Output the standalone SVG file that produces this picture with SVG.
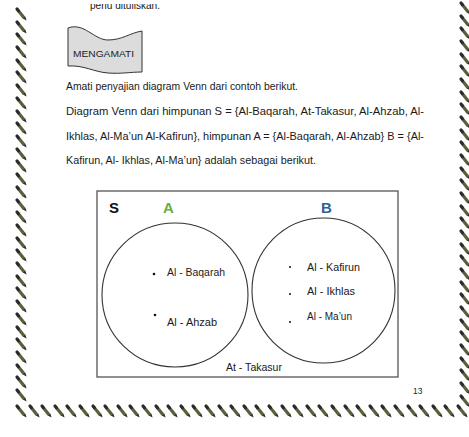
<svg xmlns="http://www.w3.org/2000/svg" xmlns:xlink="http://www.w3.org/1999/xlink" width="469" height="437" viewBox="0 0 469 437">
<style>
.t{font-family:"Liberation Sans","DejaVu Sans",sans-serif;font-size:11px;fill:#1a1a1a}
.v{font-family:"Liberation Sans","DejaVu Sans",sans-serif;font-size:11px;fill:#1a1a1a}
.set{fill:none;stroke:#333;stroke-width:1.1}
.dot{fill:#111}
.lab{font-family:"Liberation Sans","DejaVu Sans",sans-serif;font-size:15px;font-weight:bold}
</style>
<defs>
<g id="pencil">
<line x1="1.2" y1="1.5" x2="7" y2="8.8" stroke="#5e5e3c" stroke-width="3.2"/>
<line x1="0" y1="0" x2="1.4" y2="1.8" stroke="#2b2b2b" stroke-width="3.2" stroke-linecap="round"/>
<path d="M5.8,9.6 L8.3,7.6 L9.6,11.4 Z" fill="#2b2b22"/>
</g>
</defs>
<rect width="469" height="437" fill="#fff"/>
<g id="border">
<use xlink:href="#pencil" x="17" y="9"/><use xlink:href="#pencil" x="17" y="22"/><use xlink:href="#pencil" x="17" y="34"/><use xlink:href="#pencil" x="17" y="47"/><use xlink:href="#pencil" x="17" y="60"/><use xlink:href="#pencil" x="17" y="72"/><use xlink:href="#pencil" x="17" y="85"/><use xlink:href="#pencil" x="17" y="98"/><use xlink:href="#pencil" x="17" y="111"/><use xlink:href="#pencil" x="17" y="123"/><use xlink:href="#pencil" x="17" y="136"/><use xlink:href="#pencil" x="17" y="149"/><use xlink:href="#pencil" x="17" y="161"/><use xlink:href="#pencil" x="17" y="174"/><use xlink:href="#pencil" x="17" y="187"/><use xlink:href="#pencil" x="17" y="200"/><use xlink:href="#pencil" x="17" y="212"/><use xlink:href="#pencil" x="17" y="225"/><use xlink:href="#pencil" x="17" y="238"/><use xlink:href="#pencil" x="17" y="250"/><use xlink:href="#pencil" x="17" y="263"/><use xlink:href="#pencil" x="17" y="276"/><use xlink:href="#pencil" x="17" y="288"/><use xlink:href="#pencil" x="17" y="301"/><use xlink:href="#pencil" x="17" y="314"/><use xlink:href="#pencil" x="17" y="327"/><use xlink:href="#pencil" x="17" y="339"/><use xlink:href="#pencil" x="17" y="352"/><use xlink:href="#pencil" x="17" y="365"/><use xlink:href="#pencil" x="17" y="377"/><use xlink:href="#pencil" x="17" y="390"/>
<use xlink:href="#pencil" x="17" y="406"/><use xlink:href="#pencil" x="30" y="406"/><use xlink:href="#pencil" x="42" y="406"/><use xlink:href="#pencil" x="55" y="406"/><use xlink:href="#pencil" x="67" y="406"/><use xlink:href="#pencil" x="80" y="406"/><use xlink:href="#pencil" x="93" y="406"/><use xlink:href="#pencil" x="105" y="406"/><use xlink:href="#pencil" x="118" y="406"/><use xlink:href="#pencil" x="130" y="406"/><use xlink:href="#pencil" x="143" y="406"/><use xlink:href="#pencil" x="156" y="406"/><use xlink:href="#pencil" x="168" y="406"/><use xlink:href="#pencil" x="181" y="406"/><use xlink:href="#pencil" x="193" y="406"/><use xlink:href="#pencil" x="206" y="406"/><use xlink:href="#pencil" x="219" y="406"/><use xlink:href="#pencil" x="231" y="406"/><use xlink:href="#pencil" x="244" y="406"/><use xlink:href="#pencil" x="256" y="406"/><use xlink:href="#pencil" x="269" y="406"/><use xlink:href="#pencil" x="282" y="406"/><use xlink:href="#pencil" x="294" y="406"/><use xlink:href="#pencil" x="307" y="406"/><use xlink:href="#pencil" x="319" y="406"/><use xlink:href="#pencil" x="332" y="406"/><use xlink:href="#pencil" x="345" y="406"/><use xlink:href="#pencil" x="357" y="406"/><use xlink:href="#pencil" x="370" y="406"/><use xlink:href="#pencil" x="382" y="406"/><use xlink:href="#pencil" x="395" y="406"/><use xlink:href="#pencil" x="408" y="406"/><use xlink:href="#pencil" x="420" y="406"/><use xlink:href="#pencil" x="433" y="406"/><use xlink:href="#pencil" x="445" y="406"/><use xlink:href="#pencil" x="458" y="406"/>
<use xlink:href="#pencil" x="461" y="3"/><use xlink:href="#pencil" x="461" y="16"/><use xlink:href="#pencil" x="461" y="28"/><use xlink:href="#pencil" x="461" y="41"/><use xlink:href="#pencil" x="461" y="54"/><use xlink:href="#pencil" x="461" y="66"/><use xlink:href="#pencil" x="461" y="79"/><use xlink:href="#pencil" x="461" y="92"/><use xlink:href="#pencil" x="461" y="104"/><use xlink:href="#pencil" x="461" y="117"/><use xlink:href="#pencil" x="461" y="130"/><use xlink:href="#pencil" x="461" y="142"/><use xlink:href="#pencil" x="461" y="155"/><use xlink:href="#pencil" x="461" y="168"/><use xlink:href="#pencil" x="461" y="180"/><use xlink:href="#pencil" x="461" y="193"/><use xlink:href="#pencil" x="461" y="206"/><use xlink:href="#pencil" x="461" y="218"/><use xlink:href="#pencil" x="461" y="231"/><use xlink:href="#pencil" x="461" y="244"/><use xlink:href="#pencil" x="461" y="256"/><use xlink:href="#pencil" x="461" y="269"/><use xlink:href="#pencil" x="461" y="282"/><use xlink:href="#pencil" x="461" y="294"/><use xlink:href="#pencil" x="461" y="307"/><use xlink:href="#pencil" x="461" y="320"/><use xlink:href="#pencil" x="461" y="332"/><use xlink:href="#pencil" x="461" y="345"/><use xlink:href="#pencil" x="461" y="358"/><use xlink:href="#pencil" x="461" y="370"/><use xlink:href="#pencil" x="461" y="383"/><use xlink:href="#pencil" x="461" y="396"/>
</g>
<g id="page-text">
<text class="t" x="90" y="9" textLength="70" lengthAdjust="spacingAndGlyphs">perlu dituliskan.</text>
<rect x="80" y="0" width="100" height="4" fill="#fff"/>
<g id="banner">
<path d="M68,28 C84,22 94,40 108,40 C122,40 130,33 142,31 L142,72 C130,72 122,74 108,73 C94,72 84,65 68,66 Z" fill="#dcdcdc" stroke="#333" stroke-width="1"/>
<text x="73" y="57" font-family="Liberation Sans, DejaVu Sans, sans-serif" font-size="9.5" fill="#222" textLength="61" lengthAdjust="spacingAndGlyphs">MENGAMATI</text>
</g>
<text class="t" x="66" y="90" textLength="232" lengthAdjust="spacingAndGlyphs">Amati penyajian diagram Venn dari contoh berikut.</text>
<text class="t" x="66" y="115" textLength="358" lengthAdjust="spacingAndGlyphs">Diagram Venn dari himpunan S = {Al-Baqarah, At-Takasur, Al-Ahzab, Al-</text>
<text class="t" x="66" y="140" textLength="358" lengthAdjust="spacingAndGlyphs">Ikhlas, Al-Ma’un Al-Kafirun}, himpunan A = {Al-Baqarah, Al-Ahzab} B = {Al-</text>
<text class="t" x="66" y="164" textLength="250" lengthAdjust="spacingAndGlyphs">Kafirun, Al- Ikhlas, Al-Ma’un} adalah sebagai berikut.</text>
<text x="413" y="394" font-family="Liberation Sans, DejaVu Sans, sans-serif" font-size="8.5" fill="#222">13</text>
</g>
<g id="universe-S">
<rect x="97" y="191" width="301" height="186" fill="none" stroke="#555" stroke-width="1.3"/>
<text class="lab" x="109" y="213" fill="#111">S</text>
<text class="v" x="226" y="371" textLength="56" lengthAdjust="spacingAndGlyphs">At - Takasur</text>
</g>
<g id="set-A">
<ellipse class="set" cx="175" cy="295" rx="73" ry="72"/>
<text class="lab" x="163" y="213" fill="#6aad3d">A</text>
<circle class="dot" cx="154" cy="274" r="1.3"/>
<text class="v" x="167" y="276" textLength="58" lengthAdjust="spacingAndGlyphs">Al - Baqarah</text>
<circle class="dot" cx="155" cy="315" r="1.3"/>
<text class="v" x="167" y="326" textLength="50" lengthAdjust="spacingAndGlyphs">Al - Ahzab</text>
</g>
<g id="set-B">
<ellipse class="set" cx="323.5" cy="290.5" rx="71.5" ry="72.5"/>
<text class="lab" x="321" y="213" fill="#2f5f97">B</text>
<circle class="dot" cx="290" cy="267" r="1"/>
<text class="v" x="307" y="271" textLength="53" lengthAdjust="spacingAndGlyphs">Al - Kafirun</text>
<circle class="dot" cx="290" cy="294" r="1"/>
<text class="v" x="307" y="295" textLength="48" lengthAdjust="spacingAndGlyphs">Al - Ikhlas</text>
<circle class="dot" cx="290" cy="322" r="1"/>
<text class="v" x="307" y="320" textLength="45" lengthAdjust="spacingAndGlyphs">Al - Ma’un</text>
</g>
</svg>
